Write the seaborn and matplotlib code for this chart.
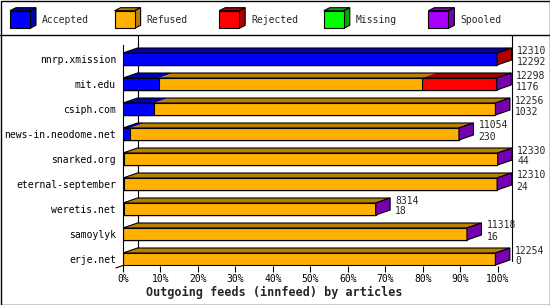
import numpy as np
import pandas as pd
import matplotlib
matplotlib.use("Agg")
import matplotlib.pyplot as plt
import seaborn as sns
from matplotlib.patches import Polygon, Rectangle
from matplotlib.transforms import IdentityTransform
from matplotlib.lines import Line2D

# ---------------- data ----------------
hosts = ["nnrp.xmission", "mit.edu", "csiph.com", "news-in.neodome.net",
         "snarked.org", "eternal-september", "weretis.net", "samoylyk", "erje.net"]
offered = [12310, 12298, 12256, 11054, 12330, 12310, 8314, 11318, 12254]
accepted = [12292, 1176, 1032, 230, 44, 24, 18, 16, 0]
refused = [0, 8651, 11214, 10814, 12281, 12281, 8291, 11297, 12249]
rejected = [18, 2451, 0, 0, 0, 0, 0, 0, 0]
missing = [0, 0, 0, 0, 0, 0, 0, 0, 0]
spooled = [0, 20, 10, 10, 5, 5, 5, 5, 5]
categories = ["Accepted", "Refused", "Rejected", "Missing", "Spooled"]
tick_values = list(range(0, 101, 10))
tick_labels = [f"{v}%" for v in tick_values]
title = "Outgoing feeds (innfeed) by articles"

front_colors = ["#0000FF", "#FFB000", "#FF0000", "#00FF00", "#AA00FF"]
dark_colors = ["#0000B0", "#B88000", "#AA0000", "#00AA00", "#7400B0"]

# ---------------- setup ----------------
W, H = 550, 305
sns.set_theme(style="white")
plt.rcParams["font.family"] = ["DejaVu Sans Mono"]
fig = plt.figure(figsize=(W / 100, H / 100), dpi=100)

DX, DY = 14.5, 5.0  # 3D depth in pixels

# background / legend layer in pixel coordinates
bg = fig.add_axes([0, 0, 1, 1])
bg.set_xlim(0, W)
bg.set_ylim(H, 0)
bg.axis("off")
bg.set_zorder(0)
bg.add_patch(Rectangle((0.5, 0.5), W - 1, H - 1, fill=False, ec="black", lw=1))
bg.add_line(Line2D([0, W], [35, 35], color="black", lw=1))

# legend boxes
for k, cat in enumerate(categories):
    x0 = 10 + 104.6 * k
    y0, y1 = 10.7, 28.3
    bx = 20
    bg.add_patch(Polygon([(x0, y0), (x0 + bx, y0), (x0 + bx + 6, y0 - 3), (x0 + 6, y0 - 3)],
                         closed=True, fc=dark_colors[k], ec="black", lw=0.8))
    bg.add_patch(Polygon([(x0 + bx, y0), (x0 + bx + 6, y0 - 3), (x0 + bx + 6, y1 - 3), (x0 + bx, y1)],
                         closed=True, fc=dark_colors[k], ec="black", lw=0.8))
    bg.add_patch(Rectangle((x0, y0), bx, y1 - y0, fc=front_colors[k], ec="black", lw=0.8))
    bg.text(x0 + 32, 20, cat, fontsize=7, va="center", ha="left")

# main axes
left_px, right_px = 123, 497.7
top_px, bot_px = 45, 265.5
ax = fig.add_axes([left_px / W, (H - bot_px) / H, (right_px - left_px) / W, (bot_px - top_px) / H])
ax.set_zorder(2)
ax.patch.set_alpha(0)

scale = max(offered)
series = [accepted, refused, rejected, missing, spooled]
pct = [np.array(s) / scale * 100 for s in series]
cum = np.cumsum(np.vstack(pct), axis=0)
BAR_H = 0.48

for k in reversed(range(len(categories))):
    sns.barplot(x=cum[k], y=hosts, orient="h", color=front_colors[k], saturation=1,
                width=BAR_H, edgecolor="black", linewidth=0.8, ax=ax, zorder=3)

ax.set_xlim(0, 100)
ax.set_ylim(8.26, -0.56)
ax.set_xticks(tick_values)
ax.set_xticklabels(tick_labels)
ax.set_ylabel("")
ax.set_xlabel("")
for s in ["top", "right", "bottom"]:
    ax.spines[s].set_visible(False)
ax.spines["left"].set_color("black")
ax.spines["left"].set_linewidth(0.8)
ax.tick_params(axis="x", length=4, width=0.8, pad=2, labelsize=7, colors="black", bottom=True)
ax.tick_params(axis="y", length=0, pad=5, labelsize=7, colors="black")

T = IdentityTransform()


def disp(x, y):
    return ax.transData.transform((x, y))

# walls
(xl, yb) = disp(0, 8.26)
(xr, _) = disp(100, 8.26)
ytop_disp = H - 35
for xw in (xl + DX, xr + DX):
    ax.add_line(Line2D([xw, xw], [yb + DY, ytop_disp], color="black", lw=0.8,
                       transform=T, clip_on=False, zorder=1))
ax.add_line(Line2D([xl + DX, xl - 7], [yb + DY, yb - 2.4], color="black", lw=0.8,
                   transform=T, clip_on=False, zorder=1))

# 3D top faces, caps and labels
for i, h in enumerate(hosts):
    prev = 0.0
    last_k = 0
    _, yt = disp(0, i - BAR_H / 2)
    _, ybb = disp(0, i + BAR_H / 2)
    for k in range(len(categories)):
        end = cum[k][i]
        if pct[k][i] > 0:
            xa, _ = disp(prev, i)
            xb, _ = disp(end, i)
            ax.add_patch(Polygon([(xa, yt), (xb, yt), (xb + DX, yt + DY), (xa + DX, yt + DY)],
                                 closed=True, fc=dark_colors[k], ec="none",
                                 transform=T, clip_on=False, zorder=4))
            last_k = k
        prev = end
    x0d, _ = disp(0, i)
    xe, _ = disp(cum[-1][i], i)
    ax.add_patch(Polygon([(x0d, yt), (xe, yt), (xe + DX, yt + DY), (x0d + DX, yt + DY)],
                         closed=True, fill=False, ec="black", lw=0.8,
                         transform=T, clip_on=False, zorder=5))
    ax.add_patch(Polygon([(xe, yt), (xe + DX, yt + DY), (xe + DX, ybb + DY), (xe, ybb)],
                         closed=True, fc=dark_colors[last_k], ec="black", lw=0.8,
                         transform=T, clip_on=False, zorder=5))
    ax.annotate(str(offered[i]), xy=(cum[-1][i], i), xytext=(DX + 5, 8.5),
                textcoords="offset pixels", fontsize=7, va="center", ha="left",
                annotation_clip=False, zorder=6)
    ax.annotate(str(accepted[i]), xy=(cum[-1][i], i), xytext=(DX + 5, -2.5),
                textcoords="offset pixels", fontsize=7, va="center", ha="left",
                annotation_clip=False, zorder=6)

fig.text(274 / W, (H - 292) / H, title, ha="center", va="center",
         fontsize=8.5, fontweight="bold")

fig.savefig("out.png", dpi=100)
